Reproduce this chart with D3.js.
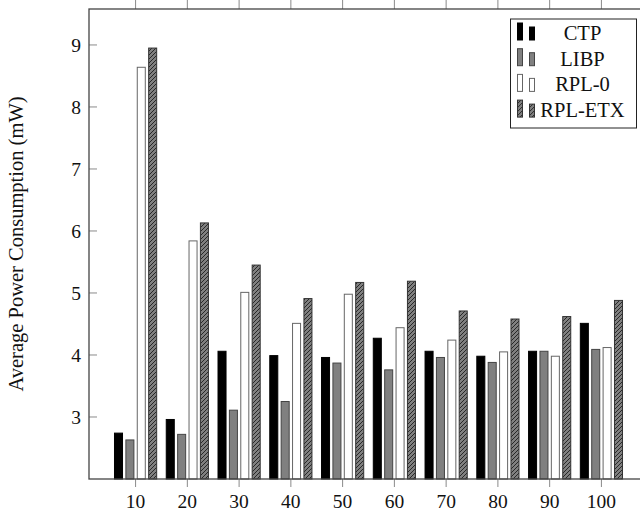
<!DOCTYPE html>
<html>
<head>
<meta charset="utf-8">
<script src="https://cdn.jsdelivr.net/npm/d3@7"></script>
<style>
  body { margin: 0; background: #fff; }
  svg { display: block; font-family: "Liberation Serif", "DejaVu Serif", serif; }
</style>
</head>
<body>
<script>
// chart values
let categories = [10, 20, 30, 40, 50, 60, 70, 80, 90, 100];
let seriesNames = ["CTP", "LIBP", "RPL-0", "RPL-ETX"];
let ctp = [2.74, 2.96, 4.06, 3.99, 3.96, 4.27, 4.06, 3.98, 4.06, 4.51];
let libp = [2.63, 2.72, 3.11, 3.25, 3.87, 3.76, 3.96, 3.88, 4.06, 4.09];
let rpl0 = [8.64, 5.84, 5.01, 4.51, 4.98, 4.44, 4.24, 4.05, 3.98, 4.12];
let rplEtx = [8.95, 6.13, 5.45, 4.91, 5.17, 5.19, 4.71, 4.58, 4.62, 4.88];
let yTicks = [3, 4, 5, 6, 7, 8, 9];

let seriesValues = [ctp, libp, rpl0, rplEtx];

let width = 640, height = 514;
let plot = { left: 89, top: 9, right: 648, bottom: 479 };

let svg = d3.select("body").append("svg")
  .attr("width", width)
  .attr("height", height);

let defs = svg.append("defs");
// north east hatch for RPL-ETX
let hatch = defs.append("pattern")
  .attr("id", "hatch")
  .attr("patternUnits", "userSpaceOnUse")
  .attr("width", 4).attr("height", 4);
hatch.append("rect").attr("width", 4).attr("height", 4).attr("fill", "#808080");
hatch.append("path")
  .attr("d", "M-1,1 l2,-2 M0,4 l4,-4 M3,5 l2,-2")
  .attr("stroke", "#111").attr("stroke-width", 0.8);

let styles = [
  { fill: "#000", stroke: "#000" },
  { fill: "#808080", stroke: "#444" },
  { fill: "#fff", stroke: "#666" },
  { fill: "url(#hatch)", stroke: "#333" }
];

// scales
let xScale = d3.scaleLinear().domain([1, 109]).range([plot.left, plot.right]);
let yScale = d3.scaleLinear().domain([2, 9.58]).range([plot.bottom, plot.top]);

let barGap = 2.2;   // distance between bar centres, in x units
let barW = xScale(1.55) - xScale(0);

// bars
let groups = svg.append("g").selectAll("g.series")
  .data(seriesValues)
  .join("g")
  .classed("series", true)
  .attr("fill", (d, i) => styles[i].fill)
  .attr("stroke", (d, i) => styles[i].stroke)
  .attr("stroke-width", 1);

groups.each(function(vals, si) {
  d3.select(this).selectAll("rect")
    .data(vals)
    .join("rect")
    .attr("x", (d, i) => xScale(categories[i] + (si - 1.5) * barGap) - barW / 2)
    .attr("y", d => yScale(d))
    .attr("width", barW)
    .attr("height", d => yScale(2) - yScale(d));
});

// ticks
let tickColor = "#8a8a8a";
let yAxisG = svg.append("g");
yAxisG.selectAll("line.yl").data(yTicks).join("line")
  .attr("x1", plot.left).attr("x2", plot.left + 8)
  .attr("y1", d => yScale(d)).attr("y2", d => yScale(d))
  .attr("stroke", tickColor).attr("stroke-width", 1);
yAxisG.selectAll("line.yr").data(yTicks).join("line")
  .attr("x1", plot.right - 8).attr("x2", plot.right)
  .attr("y1", d => yScale(d)).attr("y2", d => yScale(d))
  .attr("stroke", tickColor).attr("stroke-width", 1);
yAxisG.selectAll("text").data(yTicks).join("text")
  .attr("x", 81)
  .attr("y", d => yScale(d))
  .attr("dy", "0.34em")
  .attr("text-anchor", "end")
  .attr("font-size", 19.5)
  .attr("fill", "#111")
  .text(d => d);

let xAxisG = svg.append("g");
xAxisG.selectAll("line.xb").data(categories).join("line")
  .attr("x1", d => xScale(d)).attr("x2", d => xScale(d))
  .attr("y1", plot.bottom).attr("y2", plot.bottom + 8)
  .attr("stroke", tickColor).attr("stroke-width", 1);
xAxisG.selectAll("line.xt").data(categories).join("line")
  .attr("x1", d => xScale(d)).attr("x2", d => xScale(d))
  .attr("y1", plot.top).attr("y2", plot.top - 9)
  .attr("stroke", tickColor).attr("stroke-width", 1);
xAxisG.selectAll("text").data(categories).join("text")
  .attr("x", d => xScale(d))
  .attr("y", 508)
  .attr("text-anchor", "middle")
  .attr("font-size", 19.5)
  .attr("fill", "#111")
  .text(d => d);

// axis frame
svg.append("rect")
  .attr("x", plot.left).attr("y", plot.top)
  .attr("width", plot.right - plot.left).attr("height", plot.bottom - plot.top)
  .attr("fill", "none")
  .attr("stroke", "#444")
  .attr("stroke-width", 1.3);

// y label
svg.append("text")
  .attr("transform", `translate(23, ${(plot.top + plot.bottom) / 2}) rotate(-90)`)
  .attr("text-anchor", "middle")
  .attr("font-size", 20.5)
  .attr("fill", "#111")
  .text("Average Power Consumption (mW)");

// legend
let legend = svg.append("g");
legend.append("rect")
  .attr("x", 510.5).attr("y", 19)
  .attr("width", 126).attr("height", 109)
  .attr("fill", "#fff")
  .attr("stroke", "#222")
  .attr("stroke-width", 1);
let entries = legend.selectAll("g.entry").data(seriesNames)
  .join("g")
  .classed("entry", true)
  .attr("transform", (d, i) => `translate(0, ${40 + i * 25.7})`);
entries.append("rect")
  .attr("x", 517.5).attr("y", -17).attr("width", 5).attr("height", 17)
  .attr("fill", (d, i) => styles[i].fill)
  .attr("stroke", (d, i) => styles[i].stroke);
entries.append("rect")
  .attr("x", 529.5).attr("y", -13).attr("width", 5).attr("height", 13)
  .attr("fill", (d, i) => styles[i].fill)
  .attr("stroke", (d, i) => styles[i].stroke);
entries.append("text")
  .attr("x", 582.5).attr("y", 0)
  .attr("text-anchor", "middle")
  .attr("font-size", 20.5)
  .attr("fill", "#111")
  .text(d => d);
</script>
</body>
</html>
